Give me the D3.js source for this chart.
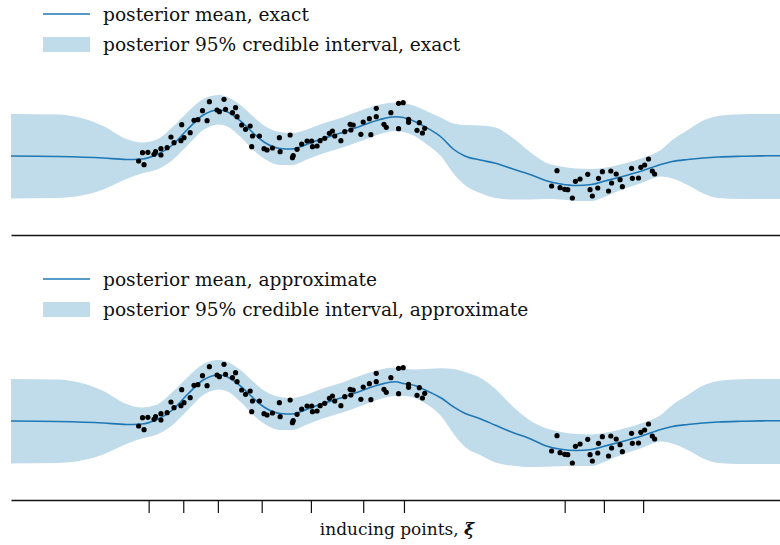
<!DOCTYPE html>
<html>
<head>
<meta charset="utf-8">
<script src="https://cdn.jsdelivr.net/npm/d3@7/dist/d3.min.js"></script>
<style>
  html, body { margin: 0; padding: 0; background: #fff; }
  svg { display: block; }
  text { font-family: "DejaVu Serif", "Liberation Serif", serif; fill: #111; }
</style>
</head>
<body>
<div id="chart"></div>
<script>
// ---------- data ----------
const gridX = [0, 0.6, 1.2, 1.5, 1.7, 1.9, 2.1, 2.3, 2.5, 2.7, 2.8, 3.0, 3.15, 3.3, 3.5, 3.65, 3.85, 4.0, 4.3, 4.55,
  4.8, 5.0, 5.1, 5.25, 5.4, 5.6, 5.75, 5.9, 6.1, 6.3, 6.5, 6.75, 6.95, 7.15, 7.35, 7.55, 7.7, 7.9, 8.2, 8.45,
  8.6, 8.8, 9.0, 9.2, 9.5, 9.75, 10];

const meanExact = [0, -0.05, -0.2, -0.35, -0.3, 0.15, 1.1, 2.7, 4.1, 4.6, 4.45, 3.4, 2.3, 1.35, 0.75, 0.7, 1.17, 1.6, 2.33, 3.0,
  3.65, 3.92, 3.85, 3.45, 2.85, 1.85, 0.7, 0, -0.4, -0.73, -1.23, -1.85, -2.45, -2.8, -2.95, -2.85, -2.55, -2.15, -1.5, -0.85,
  -0.55, -0.35, -0.2, -0.1, -0.03, 0.01, 0.03];
const upperExact = [4.2, 4.15, 3.0, 1.7, 1.35, 1.65, 2.9, 4.4, 5.7, 6.1, 5.95, 5.0, 3.95, 3.0, 2.4, 2.3, 2.65, 3.1, 3.83, 4.55,
  5.15, 5.35, 5.3, 5.0, 4.5, 3.8, 3.25, 3.1, 3.05, 2.85, 1.95, 0.4, -0.65, -1.05, -1.25, -1.3, -1.2, -0.9, -0.23, 0.6,
  1.6, 2.6, 3.55, 4.0, 4.17, 4.2, 4.2];
const lowerExact = [-4.25, -4.2, -3.35, -2.3, -1.75, -1.35, -0.4, 1.1, 2.6, 3.15, 3.0, 1.8, 0.6, -0.3, -0.9, -0.9, -0.35, 0.1, 0.83, 1.5,
  2.2, 2.5, 2.4, 2.0, 1.2, -0.1, -1.7, -2.9, -3.7, -4.2, -4.35, -4.35, -4.3, -4.35, -4.5, -4.5, -4.15, -3.5, -2.7, -2.05,
  -2.25, -2.9, -3.75, -4.2, -4.3, -4.3, -4.3];

const meanApprox = [0, -0.05, -0.2, -0.35, -0.3, 0.15, 1.1, 2.7, 4.1, 4.6, 4.45, 3.4, 2.3, 1.35, 0.75, 0.7, 1.17, 1.6, 2.33, 3.0,
  3.65, 3.92, 3.75, 3.55, 3.05, 2.27, 1.43, 0.77, 0.23, -0.43, -1.08, -1.77, -2.47, -2.83, -2.95, -2.85, -2.55, -2.15, -1.5, -0.85,
  -0.55, -0.35, -0.2, -0.1, -0.03, 0.01, 0.03];
const upperApprox = [4.2, 4.15, 3.0, 1.7, 1.35, 1.65, 2.9, 4.4, 5.7, 6.1, 5.95, 5.0, 3.95, 3.0, 2.4, 2.3, 2.65, 3.1, 3.83, 4.55,
  5.15, 5.35, 5.25, 5.15, 5.2, 5.27, 5.2, 4.9, 4.33, 3.2, 1.65, 0.05, -0.7, -1.1, -1.3, -1.35, -1.2, -0.9, -0.23, 0.6,
  1.6, 2.6, 3.55, 4.0, 4.17, 4.2, 4.2];
const lowerApprox = [-4.25, -4.2, -3.35, -2.3, -1.75, -1.35, -0.4, 1.1, 2.6, 3.15, 3.0, 1.8, 0.6, -0.3, -0.9, -0.9, -0.35, 0.1, 0.83, 1.5,
  2.2, 2.5, 2.5, 2.3, 1.7, 0.43, -1.23, -2.57, -3.4, -4.15, -4.45, -4.6, -4.57, -4.53, -4.5, -4.5, -4.15, -3.5, -2.7, -2.05,
  -2.25, -2.9, -3.75, -4.2, -4.3, -4.3, -4.3];

const obsX = [1.66, 1.73, 1.71, 1.78, 1.86, 1.88, 1.95, 1.95, 2.03, 2.08, 2.12, 2.21, 2.25, 2.22, 2.33, 2.38, 2.43, 2.49, 2.55, 2.58,
  2.68, 2.71, 2.77, 2.79, 2.88, 2.92, 2.94, 3.00, 3.05, 3.11, 3.14, 3.13, 3.23, 3.29, 3.33, 3.40, 3.49, 3.50, 3.63, 3.67,
  3.66, 3.72, 3.78, 3.85, 3.91, 3.92, 3.98, 4.02, 4.08, 4.14, 4.18, 4.21, 4.29, 4.34, 4.41, 4.45, 4.42, 4.55, 4.58, 4.66,
  4.68, 4.75, 4.75, 4.85, 4.88, 4.94, 5.04, 5.10, 5.04, 5.17, 5.17, 5.31, 5.28, 5.35, 5.38,
  7.10, 7.03, 7.14, 7.20, 7.24, 7.30, 7.34, 7.40, 7.50, 7.53, 7.56, 7.63, 7.64, 7.69, 7.77, 7.80, 7.81, 7.87, 7.92, 7.95,
  8.07, 8.08, 8.16, 8.19, 8.24, 8.29, 8.34, 8.37];
const obsY = [-0.50, -0.87, 0.33, 0.37, 0.17, 0.43, 0.10, 0.73, 0.83, 1.90, 1.33, 1.53, 1.83, 3.13, 2.33, 3.57, 3.63, 4.53, 3.53, 5.43,
  4.60, 4.43, 5.67, 4.67, 4.33, 4.83, 3.93, 3.10, 2.67, 3.00, 2.00, 0.93, 2.00, 0.73, 0.60, 0.80, 1.83, 0.43, 2.10, 0.03,
  -0.17, 0.67, 1.20, 1.50, 1.50, 0.93, 1.00, 1.53, 1.77, 2.27, 2.50, 2.00, 1.53, 2.43, 3.17, 3.10, 2.60, 2.17, 3.40, 3.73,
  2.13, 4.77, 3.93, 3.17, 2.87, 4.33, 5.27, 5.33, 2.73, 3.67, 3.37, 3.33, 2.57, 2.30, 2.77,
  -1.47, -3.00, -3.17, -3.33, -3.37, -4.20, -2.53, -2.30, -1.83, -3.37, -4.00, -3.20, -2.23, -1.57, -3.50, -1.50, -2.70, -1.80, -2.37, -3.07,
  -1.23, -2.23, -2.20, -1.13, -0.90, -0.30, -1.50, -1.80];

const inducingPoints = [1.79, 2.24, 2.69, 3.26, 3.90, 4.58, 5.11, 7.20, 7.71, 8.22];

const legendExact = ["posterior mean, exact", "posterior 95% credible interval, exact"];
const legendApprox = ["posterior mean, approximate", "posterior 95% credible interval, approximate"];
const xLabel = "inducing points, ";

// ---------- drawing ----------
const W = 780, H = 545;
const lineColor = "#1f77b4", bandColor = "#c0dbea";

const svg = d3.select("#chart").append("svg").attr("width", W).attr("height", H);

const x = d3.scaleLinear().domain([0, 10]).range([11, 780]);

function panel(offset, mean, upper, lower, legend, withTicks) {
  const y = d3.scaleLinear().domain([-6, 6]).range([216 + offset, 96 + offset]);
  const g = svg.append("g");
  const rows = gridX.map((d, i) => ({x: d, m: mean[i], u: upper[i], l: lower[i]}));

  g.append("path").datum(rows)
    .attr("fill", bandColor)
    .attr("d", d3.area().x(d => x(d.x)).y0(d => y(d.l)).y1(d => y(d.u)).curve(d3.curveMonotoneX));

  g.append("path").datum(rows)
    .attr("fill", "none").attr("stroke", lineColor).attr("stroke-width", 1.6)
    .attr("d", d3.line().x(d => x(d.x)).y(d => y(d.m)).curve(d3.curveMonotoneX));

  g.selectAll("circle.obs").data(obsX.map((d, i) => [d, obsY[i]])).enter()
    .append("circle").attr("class", "obs")
    .attr("cx", d => x(d[0])).attr("cy", d => y(d[1])).attr("r", 2.6).attr("fill", "#000");

  const axis = d3.axisBottom(x).tickSizeOuter(0).tickFormat("");
  if (withTicks) axis.tickValues(inducingPoints).tickSizeInner(13);
  else axis.tickValues([]);
  const ax = g.append("g").attr("transform", `translate(0,${235 + offset})`).call(axis);
  ax.select(".domain").attr("stroke", "#111").attr("stroke-width", 1.6);
  ax.selectAll(".tick line").attr("stroke", "#111").attr("stroke-width", 1.2);

  // legend
  const lg = g.append("g");
  lg.append("line").attr("x1", 43).attr("x2", 90).attr("y1", 14 + offset).attr("y2", 14 + offset)
    .attr("stroke", lineColor).attr("stroke-width", 1.6);
  lg.append("text").attr("x", 103).attr("y", 21 + offset).attr("font-size", 18.6).text(legend[0]);
  lg.append("rect").attr("x", 43).attr("y", 37 + offset).attr("width", 47).attr("height", 15).attr("fill", bandColor);
  lg.append("text").attr("x", 103).attr("y", 51 + offset).attr("font-size", 18.6).text(legend[1]);
}

panel(0, meanExact, upperExact, lowerExact, legendExact, false);
panel(265, meanApprox, upperApprox, lowerApprox, legendApprox, true);

const lab = svg.append("text").attr("x", 397).attr("y", 535).attr("text-anchor", "middle").attr("font-size", 17);
lab.append("tspan").text(xLabel);
lab.append("tspan").attr("font-style", "italic").attr("font-weight", "bold").text("ξ");
</script>
</body>
</html>
